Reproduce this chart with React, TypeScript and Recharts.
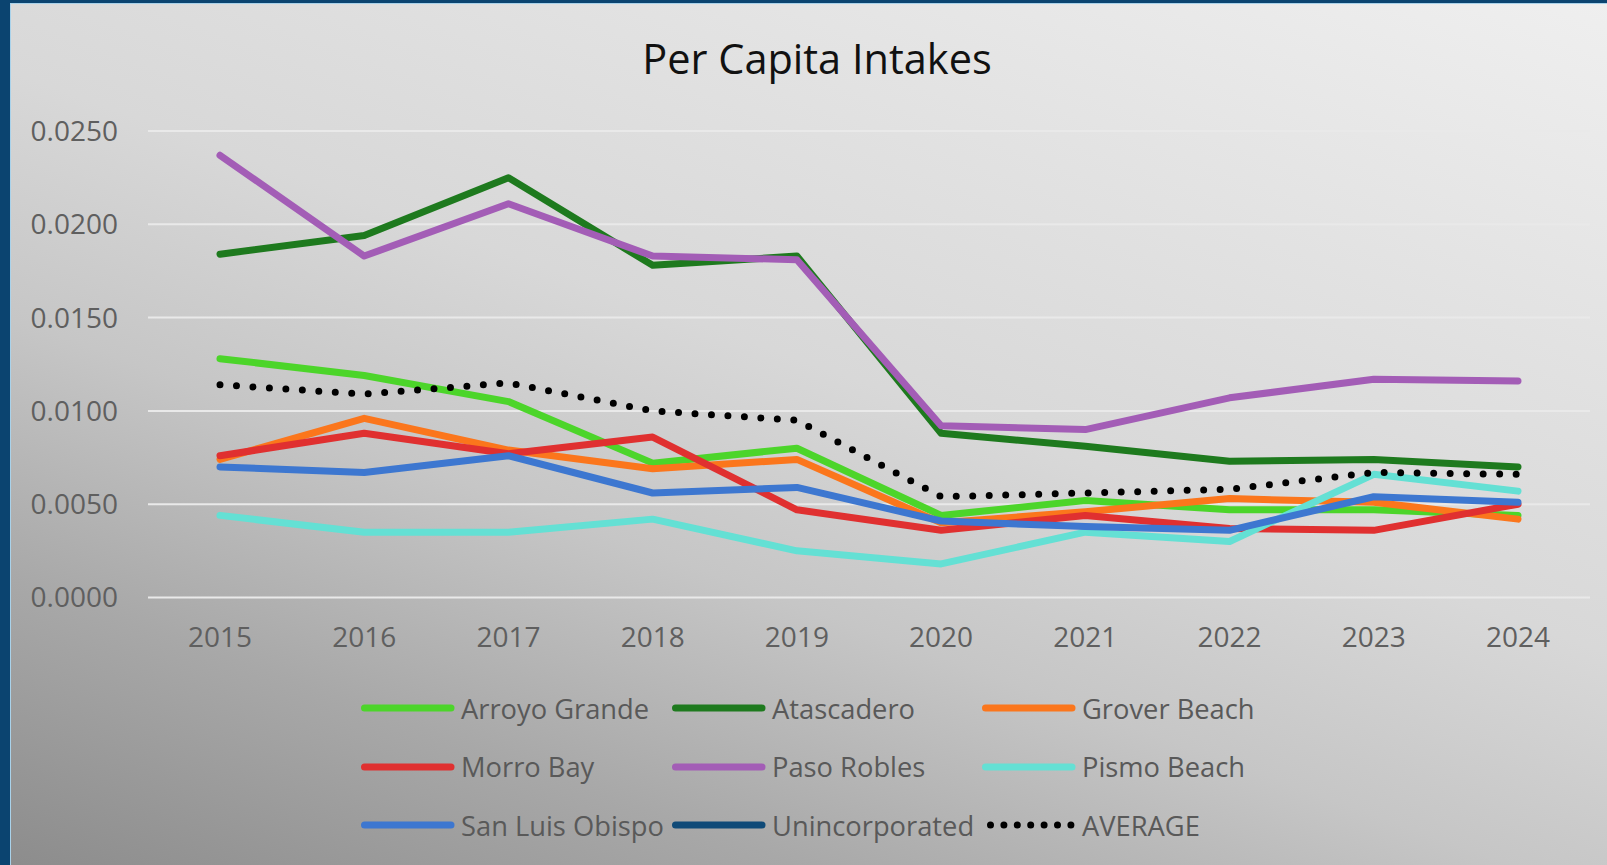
import React from 'react';
import { LineChart, Line, XAxis, YAxis, CartesianGrid, Legend } from 'recharts';

const years = ['2015', '2016', '2017', '2018', '2019', '2020', '2021', '2022', '2023', '2024'];
const arroyoGrande = [0.0128, 0.0119, 0.0105, 0.0072, 0.008, 0.0044, 0.0052, 0.0047, 0.0047, 0.0044];
const atascadero = [0.0184, 0.0194, 0.0225, 0.0178, 0.0183, 0.0088, 0.0081, 0.0073, 0.0074, 0.007];
const groverBeach = [0.0074, 0.0096, 0.0079, 0.0069, 0.0074, 0.004, 0.0046, 0.0053, 0.0051, 0.0042];
const morroBay = [0.0076, 0.0088, 0.0077, 0.0086, 0.0047, 0.0036, 0.0044, 0.0037, 0.0036, 0.005];
const pasoRobles = [0.0237, 0.0183, 0.0211, 0.0183, 0.0181, 0.0092, 0.009, 0.0107, 0.0117, 0.0116];
const pismoBeach = [0.0044, 0.0035, 0.0035, 0.0042, 0.0025, 0.0018, 0.0035, 0.003, 0.0066, 0.0057];
const sanLuisObispo = [0.007, 0.0067, 0.0076, 0.0056, 0.0059, 0.0041, 0.0038, 0.0036, 0.0054, 0.0051];
const unincorporated: (number | null)[] = [null, null, null, null, null, null, null, null, null, null];
const average = [0.0114, 0.0109, 0.0115, 0.01, 0.0095, 0.0054, 0.0056, 0.0058, 0.0067, 0.0066];
const yTicks = [0, 0.005, 0.01, 0.015, 0.02, 0.025];

const series = [
  { name: 'Arroyo Grande', values: arroyoGrande, color: '#4cd52a', dotted: false },
  { name: 'Atascadero', values: atascadero, color: '#1e7a1e', dotted: false },
  { name: 'Grover Beach', values: groverBeach, color: '#fb761c', dotted: false },
  { name: 'Morro Bay', values: morroBay, color: '#e03030', dotted: false },
  { name: 'Paso Robles', values: pasoRobles, color: '#a35db6', dotted: false },
  { name: 'Pismo Beach', values: pismoBeach, color: '#64e0d4', dotted: false },
  { name: 'San Luis Obispo', values: sanLuisObispo, color: '#3d77d0', dotted: false },
  { name: 'Unincorporated', values: unincorporated, color: '#0f4a78', dotted: false },
  { name: 'AVERAGE', values: average, color: '#000000', dotted: true },
];

const data = years.map((year, i) => {
  const row: Record<string, any> = { year };
  series.forEach((s) => {
    row[s.name] = s.values[i];
  });
  return row;
});

const FONT = '"Open Sans", "Noto Sans", sans-serif';

const renderLegend = () => (
  <div
    style={{
      display: 'grid',
      gridTemplateColumns: '311px 310px 320px',
      fontFamily: FONT,
      fontSize: 27.3,
      color: '#595959',
    }}
  >
    {series.map((s) => (
      <div key={s.name} style={{ display: 'flex', alignItems: 'center', height: 58.5 }}>
        <svg width={100} height={14} style={{ flex: 'none' }}>
          {s.dotted ? (
            <line
              x1={8.5}
              y1={7}
              x2={89}
              y2={7}
              stroke={s.color}
              strokeWidth={7}
              strokeLinecap="round"
              strokeDasharray="0 13.4"
            />
          ) : (
            <line x1={3.5} y1={7} x2={90} y2={7} stroke={s.color} strokeWidth={7} strokeLinecap="round" />
          )}
        </svg>
        <span style={{ whiteSpace: 'nowrap', lineHeight: 1 }}>{s.name}</span>
      </div>
    ))}
  </div>
);

export default function App() {
  return (
    <div
      style={{
        position: 'absolute',
        left: 0,
        top: 0,
        width: 1607,
        height: 865,
        overflow: 'hidden',
        background:
          'linear-gradient(200deg, #efefef 0%, #e2e2e2 25%, #d8d8d8 45%, #c6c6c6 62%, #a8a8a8 80%, #8c8c8c 100%)',
      }}
    >
      <div style={{ position: 'absolute', left: 0, top: 0, width: 1607, height: 3, background: '#0b4470' }} />
      <div style={{ position: 'absolute', left: 0, top: 3, width: 1607, height: 1, background: '#a9d2ea' }} />
      <div style={{ position: 'absolute', left: 0, top: 0, width: 10, height: 865, background: '#0b4470' }} />
      <div style={{ position: 'absolute', left: 10, top: 3, width: 1, height: 862, background: '#a9d2ea' }} />
      <div
        style={{
          position: 'absolute',
          left: 817,
          top: 34,
          transform: 'translateX(-50%)',
          fontFamily: FONT,
          fontSize: 41.5,
          color: '#111111',
          whiteSpace: 'nowrap',
          lineHeight: 1.2,
        }}
      >
        Per Capita Intakes
      </div>
      <div style={{ position: 'absolute', left: 0, top: 0 }}>
        <LineChart
          width={1607}
          height={865}
          data={data}
          margin={{ top: 131, right: 17, bottom: 207.5, left: 0 }}
        >
          <CartesianGrid vertical={false} stroke="#e9e9e9" strokeWidth={2} />
          <XAxis
            dataKey="year"
            axisLine={false}
            tickLine={false}
            tickSize={0}
            tickMargin={30}
            height={60}
            interval={0}
            padding={{ left: 72, right: 72 }}
            tick={{ fill: '#5f5f5f', fontSize: 28, fontFamily: FONT }}
          />
          <YAxis
            domain={[0, 0.025]}
            ticks={yTicks}
            axisLine={false}
            tickLine={false}
            tickSize={0}
            tickMargin={30}
            width={148}
            tickFormatter={(v: number) => v.toFixed(4)}
            tick={{ fill: '#5f5f5f', fontSize: 28, fontFamily: FONT }}
          />
          <Legend
            layout="horizontal"
            verticalAlign="middle"
            align="center"
            content={renderLegend}
            wrapperStyle={{ left: 361, top: 679, width: 960, height: 176 }}
          />
          {series.map((s) => (
            <Line
              key={s.name}
              type="linear"
              dataKey={s.name}
              stroke={s.color}
              strokeWidth={7}
              strokeLinecap="round"
              strokeLinejoin="round"
              strokeDasharray={s.dotted ? '0 16.5' : undefined}
              dot={false}
              activeDot={false}
              isAnimationActive={false}
            />
          ))}
        </LineChart>
      </div>
    </div>
  );
}
